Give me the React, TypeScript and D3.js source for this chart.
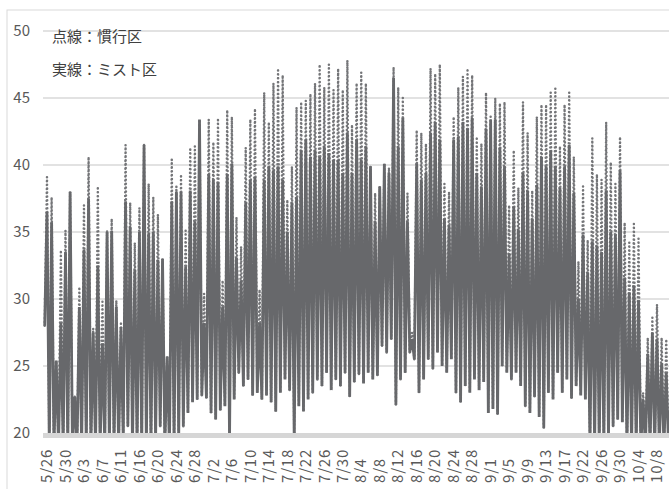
import React from "react";
import * as d3 from "d3";

// Daily maximum of the conventional plot (dotted line, 慣行区)
const DOT_MAX = [
  39.1, 37.6, 25.4, 33.5, 35.1, 38.0, 22.7, 30.9, 37.0, 40.6,
  27.8, 38.4, 29.8, 35.1, 36.0, 29.9, 28.3, 41.5, 37.2, 34.2,
  36.8, 41.5, 38.6, 37.6, 36.3, 33.0, 25.7, 40.4, 38.4, 39.3,
  35.1, 41.3, 41.4, 43.4, 30.4, 43.4, 41.7, 43.5, 31.4, 44.1,
  43.6, 36.1, 33.9, 41.3, 43.4, 44.2, 30.7, 45.4, 43.2, 46.1,
  47.2, 46.7, 37.4, 39.9, 44.3, 44.7, 44.8, 45.3, 46.1, 47.5,
  45.8, 47.5, 45.6, 47.2, 45.6, 47.8, 43.0, 46.1, 46.9, 46.1,
  39.9, 37.9, 38.4, 40.1, 39.8, 47.3, 45.8, 45.0, 37.9, 27.5,
  42.6, 42.4, 41.6, 47.2, 46.8, 47.5, 38.6, 38.0, 43.6, 45.8,
  46.6, 47.2, 46.7, 42.1, 41.6, 45.4, 43.6, 45.0, 44.6, 44.7,
  37.0, 41.1, 38.3, 44.7, 42.4, 38.1, 43.6, 44.5, 44.5, 45.4,
  45.7, 41.4, 44.5, 45.4, 40.6, 32.8, 38.4, 34.4, 42.0, 39.3,
  38.9, 43.2, 40.2, 38.6, 42.1, 35.7, 34.2, 35.6, 34.5, 23.0,
  27.1, 28.6, 29.6, 27.1, 27.0, 23.2,
];

// Daily maximum of the mist plot (solid line, ミスト区)
const MIST_MAX = [
  36.5, 35.7, 25.4, 28.2, 33.5, 38.0, 22.7, 29.4, 33.7, 37.5,
  27.5, 32.5, 26.7, 35.0, 35.1, 29.4, 27.9, 37.3, 35.4, 32.2,
  35.0, 41.5, 34.9, 35.0, 32.9, 33.0, 25.7, 37.3, 38.0, 38.0,
  32.4, 38.1, 35.8, 43.4, 28.2, 39.3, 38.9, 38.7, 29.4, 39.3,
  40.1, 33.1, 31.4, 37.2, 38.9, 39.1, 28.2, 38.9, 39.9, 39.6,
  39.9, 38.9, 35.0, 37.2, 37.6, 41.1, 41.9, 40.6, 41.1, 40.6,
  41.4, 40.9, 40.4, 40.4, 39.4, 42.4, 39.4, 41.9, 40.4, 41.4,
  39.9, 35.8, 38.4, 40.1, 39.4, 46.5, 41.4, 43.5, 35.8, 27.0,
  40.1, 38.9, 39.4, 42.4, 43.2, 41.9, 36.0, 35.5, 41.9, 42.1,
  43.2, 42.7, 43.5, 39.4, 38.4, 42.7, 43.4, 43.4, 41.3, 39.9,
  33.4, 36.9, 35.2, 39.4, 38.1, 36.0, 38.5, 40.6, 39.9, 41.1,
  39.9, 38.3, 39.9, 41.5, 37.9, 30.0, 34.8, 32.0, 34.3, 34.0,
  33.5, 38.1, 35.0, 34.8, 39.6, 31.6, 30.5, 31.0, 29.9, 22.5,
  25.9, 27.5, 27.0, 25.2, 24.5, 22.5,
];

// Daily minimum (both plots)
const DAILY_MIN = [
  28, 19, 19, 19, 19, 19, 19, 19, 19, 19,
  19, 19, 19, 19, 19, 19, 19, 19.5, 20.5, 19,
  19, 19, 19, 19, 19.5, 20.5, 19, 19, 19, 19.5,
  20.5, 21.5, 22.3, 22.5, 22.8, 22.6, 21.5, 21, 21.7, 22,
  19.5, 22.5, 24.5, 23.5, 24, 22.8, 23, 22.5, 22.8, 22.3,
  21.6, 23, 24, 23.2, 19.5, 22, 21.6, 22.5, 23, 24,
  23.5, 24.5, 23.2, 24, 23.5, 24.5, 22.7, 23.8, 24.4, 23.7,
  24.5, 24, 24.3, 26.5, 26, 27, 22.1, 24, 24.5, 26,
  25.5, 23, 24, 25.5, 24.8, 26, 25, 24.5, 25.5, 23,
  22.3, 23.5, 23, 24, 23.2, 23.8, 21.5, 21.8, 21.4, 25,
  24.5, 24, 24.5, 23.5, 22, 21.5, 22.7, 21.2, 20.4, 23,
  22.5, 24.5, 23, 24, 22.6, 23.5, 22.8, 22.5, 19, 19,
  19, 19, 19.5, 20.5, 21, 20.8, 19, 19, 19, 19,
  19, 19, 19, 19, 19, 19,
];

const TICK_LABELS = [
  "5/26", "5/30", "6/3", "6/7", "6/11", "6/16", "6/20", "6/24", "6/28",
  "7/2", "7/6", "7/10", "7/14", "7/18", "7/22", "7/26", "7/30", "8/4",
  "8/8", "8/12", "8/16", "8/20", "8/24", "8/28", "9/1", "9/5", "9/9",
  "9/13", "9/17", "9/22", "9/26", "9/30", "10/4", "10/8",
];
const DAYS_PER_LABEL = 4;
const Y_TICKS = [20, 25, 30, 35, 40, 45, 50];
const LEGEND_LINES = ["点線：慣行区", "実線：ミスト区"];

const W = 669;
const H = 489;
const FONT = "'Noto Sans CJK JP', 'Noto Sans', sans-serif";
const INK = "#67686b";
const DOT_INK = "#747578";
const TEXT = "#595959";

export default function App() {
  const lastTickDay = (TICK_LABELS.length - 1) * DAYS_PER_LABEL;
  const x = d3.scaleLinear().domain([0, lastTickDay]).range([47, 657]);
  const y = d3.scaleLinear().domain([20, 50]).range([433, 31]);
  const plotLeft = 43;

  const buildPts = (maxArr: number[]) => {
    const pts: [number, number][] = [];
    maxArr.forEach((mx, i) => {
      pts.push([i - 0.5, DAILY_MIN[i]]);
      pts.push([i, mx]);
    });
    return pts;
  };
  const line = d3
    .line<[number, number]>()
    .x((d) => x(d[0]))
    .y((d) => y(d[1]));

  const dotPath = line(buildPts(DOT_MAX)) || "";
  const mistPath = line(buildPts(MIST_MAX)) || "";

  return (
    <svg
      width={W}
      height={H}
      style={{ position: "absolute", left: 0, top: 0, background: "#fff" }}
    >
      <defs>
        <clipPath id="plotClip">
          <rect x={plotLeft} y={y(50) - 2} width={W - plotLeft} height={y(20) - y(50) + 2} />
        </clipPath>
      </defs>
      <rect x={7} y={10} width={720} height={520} fill="#fff" stroke="#d9d9d9" strokeWidth={1} />
      {Y_TICKS.filter((t) => t !== 20).map((t) => (
        <line key={t} x1={plotLeft} x2={W} y1={y(t)} y2={y(t)} stroke="#d9d9d9" strokeWidth={1.5} />
      ))}
      {Y_TICKS.map((t) => (
        <text
          key={"yl" + t}
          x={30}
          y={y(t)}
          dy="0.35em"
          textAnchor="end"
          fontFamily={FONT}
          fontSize={15}
          fill={TEXT}
        >
          {t}
        </text>
      ))}
      <g clipPath="url(#plotClip)">
        <path
          d={dotPath}
          fill="none"
          stroke={DOT_INK}
          strokeWidth={2.5}
          strokeDasharray="0.01 3.9"
          strokeLinecap="round"
          strokeLinejoin="round"
        />
        <path d={mistPath} fill="none" stroke={INK} strokeWidth={2.8} strokeLinejoin="miter" />
      </g>
      <line x1={plotLeft} x2={W} y1={y(20) + 2.5} y2={y(20) + 2.5} stroke="#d6d6d6" strokeWidth={5} />
      {TICK_LABELS.map((lab, k) => {
        const px = x(k * DAYS_PER_LABEL);
        return (
          <text
            key={lab}
            transform={`translate(${px},483) rotate(-90)`}
            dy="0.35em"
            textAnchor="start"
            fontFamily={FONT}
            fontSize={15}
            letterSpacing={0.8}
            fill={TEXT}
          >
            {lab}
          </text>
        );
      })}
      {LEGEND_LINES.map((s, i) => (
        <text
          key={s}
          x={52}
          y={37 + i * 33}
          dy="0.35em"
          fontFamily={FONT}
          fontSize={15}
          fill="#404040"
        >
          {s}
        </text>
      ))}
    </svg>
  );
}
